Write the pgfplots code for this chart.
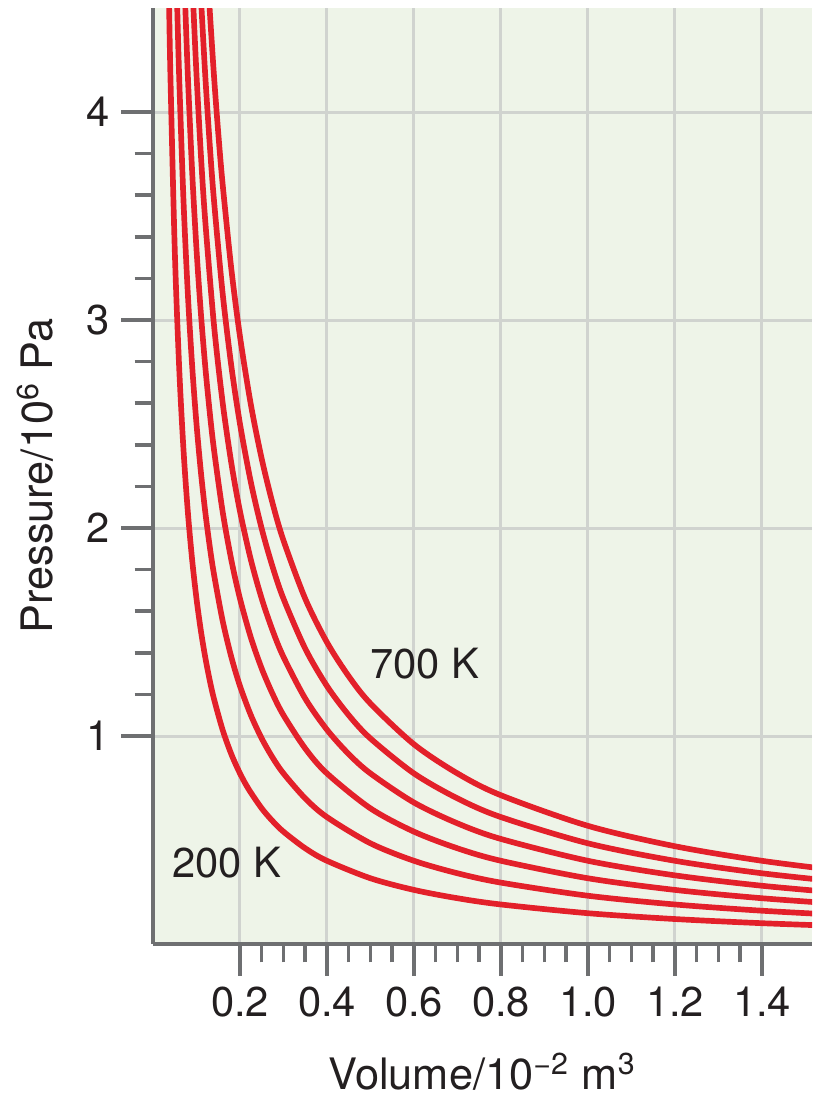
\documentclass[border=0pt]{standalone}
\usepackage{pgfplots}
\pgfplotsset{compat=1.18}
\usepackage{fontspec}
\setmainfont{TeX Gyre Heros}

\definecolor{bgGreen}{HTML}{EEF4E8}
\definecolor{gridGray}{HTML}{D0D3CF}
\definecolor{axisGray}{HTML}{6E6F71}
\definecolor{curveRed}{HTML}{E3202A}
\definecolor{txt}{HTML}{231F20}

\tikzset{iso/.style={curveRed, line width=1.7pt, smooth, mark=none}}

\begin{document}
\begin{tikzpicture}
\begin{axis}[
    scale only axis,
    width=197.7pt, height=280.8pt,
    xmin=0, xmax=1.515,
    ymin=0, ymax=4.5,
    axis lines*=left,
    axis line style={axisGray, line width=1.2pt, -},
    axis background/.style={fill=bgGreen},
    xtick={0.2,0.4,...,1.4},
    ytick={1,2,3,4},
    minor x tick num=3,
    minor y tick num=4,
    tick align=outside,
    major tick length=9.5pt,
    minor tick length=5.5pt,
    every tick/.style={axisGray, line width=1.05pt},
    grid=major,
    major grid style={gridGray, line width=0.9pt},
    xticklabel style={/pgf/number format/.cd, fixed, fixed zerofill, precision=1, /tikz/.cd},
    /pgf/number format/assume math mode=true,
    tick label style={font=\fontsize{12.5}{14}\selectfont, text=txt},
    label style={font=\fontsize{13}{15}\selectfont, text=txt},
    xlabel={Volume/10\textsuperscript{−2} m\textsuperscript{3}},
    ylabel={Pressure/10\textsuperscript{6} Pa},
    xlabel style={at={(axis description cs:0.5,-0.155)}, anchor=base},
    ylabel style={at={(axis description cs:-0.152,0.5)}, anchor=base},
]
% 200 K
\addplot[iso] coordinates {(0.037,4.52) (0.04,4.18) (0.05,3.34) (0.06,2.78) (0.07,2.38) (0.08,2.08) (0.09,1.847) (0.10,1.66) (0.11,1.507) (0.12,1.38) (0.13,1.272) (0.14,1.18) (0.16,1.03) (0.18,0.913) (0.20,0.82) (0.22,0.744) (0.25,0.652) (0.275,0.591) (0.30,0.54) (0.35,0.46) (0.40,0.40) (0.50,0.316) (0.60,0.26) (0.70,0.22) (0.80,0.19) (1.0,0.148) (1.2,0.12) (1.4,0.10) (1.6,0.085)};
% 300 K
\addplot[iso] coordinates {(0.0555,4.52) (0.06,4.18) (0.07,3.58) (0.08,3.13) (0.09,2.78) (0.10,2.50) (0.11,2.271) (0.12,2.08) (0.13,1.918) (0.14,1.78) (0.16,1.555) (0.18,1.38) (0.20,1.24) (0.225,1.10) (0.25,0.988) (0.275,0.896) (0.30,0.82) (0.35,0.70) (0.40,0.61) (0.50,0.484) (0.60,0.40) (0.70,0.34) (0.80,0.295) (1.0,0.232) (1.2,0.19) (1.4,0.16) (1.6,0.1375)};
% 400 K
\addplot[iso] coordinates {(0.074,4.52) (0.08,4.18) (0.09,3.713) (0.10,3.34) (0.11,3.035) (0.12,2.78) (0.13,2.565) (0.14,2.38) (0.16,2.08) (0.18,1.847) (0.20,1.66) (0.225,1.473) (0.25,1.324) (0.275,1.202) (0.30,1.10) (0.35,0.94) (0.40,0.82) (0.50,0.652) (0.60,0.54) (0.70,0.46) (0.80,0.40) (1.0,0.316) (1.2,0.26) (1.4,0.22) (1.6,0.19)};
% 500 K
\addplot[iso] coordinates {(0.0925,4.52) (0.10,4.18) (0.11,3.798) (0.12,3.48) (0.14,2.98) (0.16,2.605) (0.18,2.313) (0.20,2.08) (0.225,1.847) (0.25,1.66) (0.275,1.507) (0.30,1.38) (0.35,1.18) (0.40,1.03) (0.45,0.913) (0.50,0.82) (0.60,0.68) (0.70,0.58) (0.80,0.505) (1.0,0.40) (1.2,0.33) (1.4,0.28) (1.6,0.2425)};
% 600 K
\addplot[iso] coordinates {(0.111,4.52) (0.12,4.18) (0.13,3.857) (0.14,3.58) (0.16,3.13) (0.18,2.78) (0.20,2.50) (0.225,2.22) (0.25,1.996) (0.275,1.813) (0.30,1.66) (0.35,1.42) (0.40,1.24) (0.45,1.10) (0.50,0.988) (0.60,0.82) (0.70,0.70) (0.80,0.61) (1.0,0.484) (1.2,0.40) (1.4,0.34) (1.6,0.295)};
% 700 K
\addplot[iso] coordinates {(0.1295,4.52) (0.14,4.18) (0.15,3.90) (0.16,3.655) (0.18,3.247) (0.20,2.92) (0.225,2.593) (0.25,2.332) (0.275,2.118) (0.30,1.94) (0.35,1.66) (0.40,1.45) (0.45,1.287) (0.50,1.156) (0.60,0.96) (0.70,0.82) (0.80,0.715) (1.0,0.568) (1.2,0.47) (1.4,0.40) (1.6,0.3475)};
\node[text=txt, font=\fontsize{12.5}{14}\selectfont] at (axis cs:0.625,1.35) {700 K};
\node[text=txt, font=\fontsize{12.5}{14}\selectfont] at (axis cs:0.17,0.39) {200 K};
\end{axis}
\pgfresetboundingbox
\path[use as bounding box] (-45.9pt,-45.9pt) rectangle (197.7pt,283.2pt);
\end{tikzpicture}
\end{document}
